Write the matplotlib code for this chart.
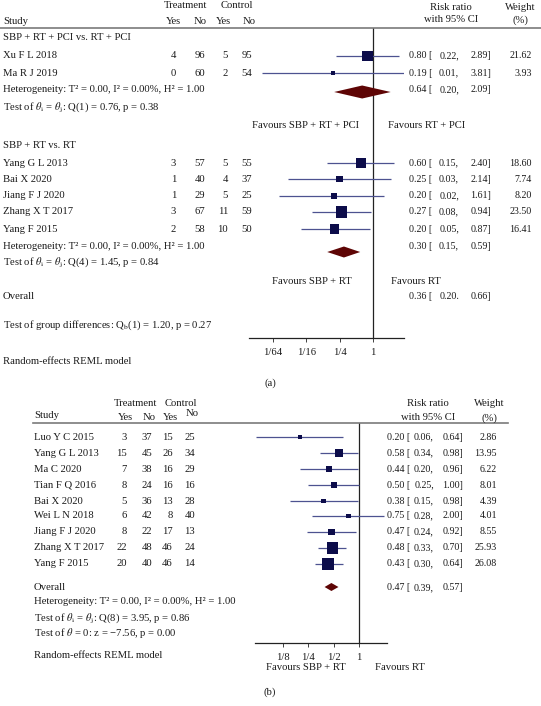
import matplotlib
matplotlib.use("Agg")
import matplotlib.pyplot as plt
import numpy as np

# ---------------- data: panel (a) ----------------
a1_names = ["Xu F L 2018", "Ma R J 2019"]
a1_yes_t = [4, 0]
a1_no_t = [96, 60]
a1_yes_c = [5, 2]
a1_no_c = [95, 54]
a1_rr = [0.80, 0.19]
a1_lo = [0.22, 0.01]
a1_hi = [2.89, 3.81]
a1_w = [21.62, 3.93]
a1_pooled = [0.64, 0.20, 2.09]

a2_names = ["Yang G L 2013", "Bai X 2020", "Jiang F J 2020", "Zhang X T 2017", "Yang F 2015"]
a2_yes_t = [3, 1, 1, 3, 2]
a2_no_t = [57, 40, 29, 67, 58]
a2_yes_c = [5, 4, 5, 11, 10]
a2_no_c = [55, 37, 25, 59, 50]
a2_rr = [0.60, 0.25, 0.20, 0.27, 0.20]
a2_lo = [0.15, 0.03, 0.02, 0.08, 0.05]
a2_hi = [2.40, 2.14, 1.61, 0.94, 0.87]
a2_w = [18.60, 7.74, 8.20, 23.50, 16.41]
a2_pooled = [0.30, 0.15, 0.59]

a_overall = [0.36, 0.20, 0.66]
a_ticks = [1/64, 1/16, 1/4, 1]
a_ticklabels = ["1/64", "1/16", "1/4", "1"]

# ---------------- data: panel (b) ----------------
b_names = ["Luo Y C 2015", "Yang G L 2013", "Ma C 2020", "Tian F Q 2016", "Bai X 2020",
           "Wei L N 2018", "Jiang F J 2020", "Zhang X T 2017", "Yang F 2015"]
b_yes_t = [3, 15, 7, 8, 5, 6, 8, 22, 20]
b_no_t = [37, 45, 38, 24, 36, 42, 22, 48, 40]
b_yes_c = [15, 26, 16, 16, 13, 8, 17, 46, 46]
b_no_c = [25, 34, 29, 16, 28, 40, 13, 24, 14]
b_rr = [0.20, 0.58, 0.44, 0.50, 0.38, 0.75, 0.47, 0.48, 0.43]
b_lo = [0.06, 0.34, 0.20, 0.25, 0.15, 0.28, 0.24, 0.33, 0.30]
b_hi = [0.64, 0.98, 0.96, 1.00, 0.98, 2.00, 0.92, 0.70, 0.64]
b_w = [2.86, 13.95, 6.22, 8.01, 4.39, 4.01, 8.55, 25.93, 26.08]
b_overall = [0.47, 0.39, 0.57]
b_ticks = [1/8, 1/4, 1/2, 1]
b_ticklabels = ["1/8", "1/4", "1/2", "1"]

# ---------------- style ----------------
W, H = 541, 706
FS = 7.7      # labels
NFS = 7.2     # estimate / weight columns
FONT = ["Liberation Serif", "DejaVu Serif"]
TXT = "#1a1a1a"
SQ = "#0c0c4a"
CI = "#4d5290"
DIA = "#5e0505"
RULE = "#7a7a7a"

plt.rcParams["font.family"] = FONT
plt.rcParams["mathtext.fontset"] = "stix"

fig = plt.figure(figsize=(W / 100, H / 100), dpi=100)


def txt(x, y, s, ha="left", size=FS, **kw):
    # x, y in pixels from top-left
    fig.text(x / W, 1 - y / H, s, ha=ha, va="center", fontsize=size, color=TXT, **kw)


def hrule(x0, x1, y):
    fig.add_artist(plt.Line2D([x0 / W, x1 / W], [1 - y / H, 1 - y / H],
                              color=RULE, lw=1.2, transform=fig.transFigure))


def make_axes(x0, x1, ytop, ybot, lg_lo, lg_hi, ticks, labels):
    ax = fig.add_axes([x0 / W, 1 - ybot / H, (x1 - x0) / W, (ybot - ytop) / H])
    ax.set_xscale("log", base=2)
    ax.set_xlim(2 ** lg_lo, 2 ** lg_hi)
    ax.set_ylim(ybot, ytop)  # data y == pixel row
    for s in ["top", "left", "right"]:
        ax.spines[s].set_visible(False)
    ax.spines["bottom"].set_linewidth(0.9)
    ax.spines["bottom"].set_color("#222222")
    ax.set_yticks([])
    ax.set_xticks(ticks)
    ax.set_xticklabels(labels, fontsize=FS, color=TXT)
    ax.xaxis.set_minor_locator(matplotlib.ticker.NullLocator())
    ax.tick_params(axis="x", length=3, width=0.6, pad=4, color="#222222")
    ax.axvline(1, color="#222222", lw=0.9)
    ax.patch.set_alpha(0)
    return ax


def study_rows(ax, ys, names, yt, nt, yc, nc, rr, lo, hi, w, cols):
    xn, xyt, xnt, xyc, xnc, xe, xl, xh, xw, k = cols
    for i, y in enumerate(ys):
        txt(xn, y, names[i])
        txt(xyt, y, str(yt[i]), ha="right")
        txt(xnt, y, str(nt[i]), ha="right")
        txt(xyc, y, str(yc[i]), ha="right")
        txt(xnc, y, str(nc[i]), ha="right")
        txt(xe, y, f"{rr[i]:.2f} [", size=NFS)
        txt(xl, y, f"{lo[i]:.2f},", ha="right", size=NFS)
        txt(xh, y, f"{hi[i]:.2f}]", ha="right", size=NFS)
        txt(xw, y, f"{w[i]:.2f}", ha="right", size=NFS)
    ax.hlines(ys, lo, hi, color=CI, lw=0.9)
    ax.scatter(rr, ys, marker="s", s=np.array(w) * k, color=SQ, lw=0, zorder=3)


def diamond(ax, y, est, lo, hi, h):
    ax.fill([lo, est, hi, est], [y, y - h / 2, y, y + h / 2], color=DIA, lw=0, zorder=3)


def pooled_text(y, vals, xe, xl, xh, sep=","):
    txt(xe, y, f"{vals[0]:.2f} [", size=NFS)
    txt(xl, y, f"{vals[1]:.2f}{sep}", ha="right", size=NFS)
    txt(xh, y, f"{vals[2]:.2f}]", ha="right", size=NFS)


# ================= panel (a) =================
axa = make_axes(249, 404, 28, 338, -7.42, 1.86, a_ticks, a_ticklabels)
txt(186, 6, "Treatment", ha="center")
txt(237, 6, "Control", ha="center")
txt(3, 21, "Study")
for x, s in [(173, "Yes"), (200, "No"), (223, "Yes"), (249, "No")]:
    txt(x, 21, s, ha="center")
txt(451, 7, "Risk ratio", ha="center")
txt(451, 20, "with 95% CI", ha="center")
txt(520, 7, "Weight", ha="center")
txt(520, 20, "(%)", ha="center")
hrule(0, 541, 28)

EA, LA, HA_, WA = 409, 459, 491, 532
cols_a = (3, 176, 205, 228, 252, EA, LA, HA_, WA, 2.67)
txt(3, 38, "SBP + RT + PCI vs. RT + PCI")
study_rows(axa, [56, 73], a1_names, a1_yes_t, a1_no_t, a1_yes_c, a1_no_c,
           a1_rr, a1_lo, a1_hi, a1_w, cols_a)
diamond(axa, 92, *a1_pooled, 13)
pooled_text(90, a1_pooled, EA, LA, HA_)
txt(3, 90, "Heterogeneity: T² = 0.00, I² = 0.00%, H² = 1.00")
txt(3, 107, r"Test of $\theta_{\mathrm{i}}$ = $\theta_{\mathrm{j}}$: Q(1) = 0.76, p = 0.38")
txt(359, 126, "Favours SBP + RT + PCI", ha="right")
txt(388, 126, "Favours RT + PCI")

txt(3, 146, "SBP + RT vs. RT")
study_rows(axa, [163, 179, 196, 212, 229], a2_names, a2_yes_t, a2_no_t, a2_yes_c, a2_no_c,
           a2_rr, a2_lo, a2_hi, a2_w, cols_a)
diamond(axa, 252, *a2_pooled, 11)
pooled_text(246, a2_pooled, EA, LA, HA_)
txt(3, 246, "Heterogeneity: T² = 0.00, I² = 0.00%, H² = 1.00")
txt(3, 262, r"Test of $\theta_{\mathrm{i}}$ = $\theta_{\mathrm{j}}$: Q(4) = 1.45, p = 0.84")
txt(352, 281, "Favours SBP + RT", ha="right")
txt(391, 281, "Favours RT")
txt(3, 297, "Overall")
pooled_text(296, a_overall, EA, LA, HA_, sep=".")
txt(3, 325, r"Test of group differences: Q$_{\mathrm{b}}$(1) = 1.20, p = 0.27")
txt(3, 361, "Random-effects REML model")
txt(270, 383, "(a)", ha="center")

# ================= panel (b) =================
axb = make_axes(255, 387, 423, 643, -4.105, 1.105, b_ticks, b_ticklabels)
txt(136, 403, "Treatment", ha="center")
txt(181, 403, "Control", ha="center")
txt(34, 416, "Study")
for x, y, s in [(125, 418, "Yes"), (149, 418, "No"), (170, 418, "Yes"), (192, 414, "No")]:
    txt(x, y, s, ha="center")
txt(428, 403, "Risk ratio", ha="center")
txt(428, 418, "with 95% CI", ha="center")
txt(489, 403, "Weight", ha="center")
txt(489, 418, "(%)", ha="center")
hrule(33, 508, 423)

EB, LB, HB, WB = 387, 434, 463, 497
cols_b = (34, 127, 152, 173, 195, EB, LB, HB, WB, 2.55)
study_rows(axb, [437, 453, 469, 485, 501, 516, 532, 548, 564], b_names,
           b_yes_t, b_no_t, b_yes_c, b_no_c, b_rr, b_lo, b_hi, b_w, cols_b)
diamond(axb, 587, *b_overall, 8)
pooled_text(588, b_overall, EB, LB, HB)
txt(34, 588, "Overall")
txt(34, 602, "Heterogeneity: T² = 0.00, I² = 0.00%, H² = 1.00")
txt(34, 618, r"Test of $\theta_{\mathrm{i}}$ = $\theta_{\mathrm{j}}$: Q(8) = 3.95, p = 0.86")
txt(34, 633, "Test of $\\theta$ = 0: z = \u22127.56, p = 0.00")
txt(34, 655, "Random-effects REML model")
txt(306, 668, "Favours SBP + RT", ha="center")
txt(400, 668, "Favours RT", ha="center")
txt(270, 692, "(b)", ha="center")

fig.savefig("out.png", dpi=100, facecolor="white")
